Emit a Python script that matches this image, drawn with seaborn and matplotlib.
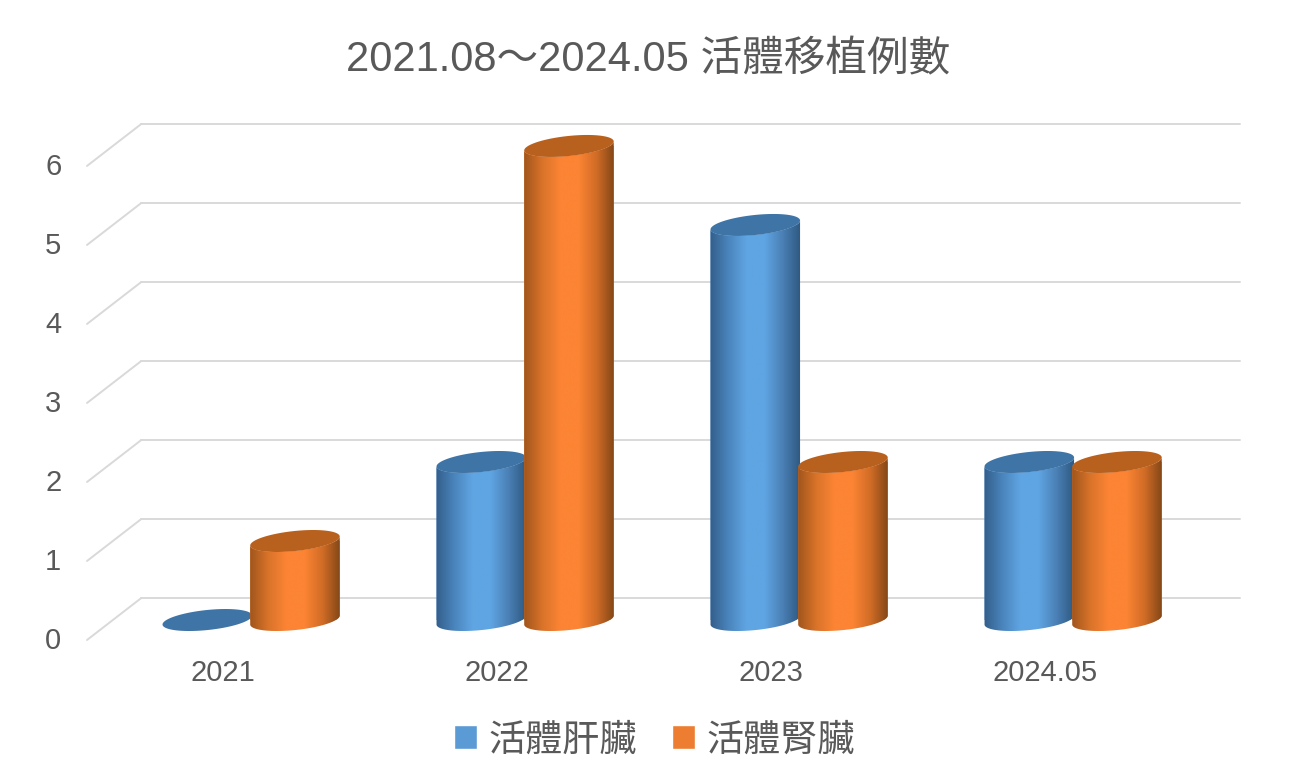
import numpy as np
import pandas as pd
import matplotlib
matplotlib.use("Agg")
import matplotlib.pyplot as plt
from matplotlib.colors import LinearSegmentedColormap
from matplotlib.patches import PathPatch
from matplotlib.path import Path
from matplotlib.transforms import IdentityTransform
import seaborn as sns

title = "2021.08～2024.05 活體移植例數"
years = ["2021", "2022", "2023", "2024.05"]
liver = [0, 2, 5, 2]
kidney = [1, 6, 2, 2]
series_names = ["活體肝臟", "活體腎臟"]
y_labels = ["0", "1", "2", "3", "4", "5", "6"]

sns.set_theme(style="white")
plt.rcParams["font.family"] = ["Liberation Sans", "Noto Sans CJK TC", "DejaVu Sans"]

W, H = 1296, 782
TXT = "#595959"
GRID = "#D9D9D9"
legend_cols = ["#5B9BD5", "#ED7D31"]
tops = ["#3F74A6", "#B8611F"]
ramps = [["#335E8A", "#4A84BC", "#5FA5E3", "#5FA5E3", "#4A80B5", "#2E5780"],
         ["#A0561C", "#D9732A", "#FC8434", "#FC8434", "#D06C26", "#7F4516"]]

df = pd.DataFrame({
    "year": years * 2,
    "series": [series_names[0]] * 4 + [series_names[1]] * 4,
    "value": liver + kidney,
})

fig = plt.figure(figsize=(W / 100, H / 100), dpi=100)
ax = fig.add_axes([87 / W, 1 - 640 / H, (1240 - 87) / W, (640 - 124) / H])
sns.barplot(data=df, x="year", y="value", hue="series", hue_order=series_names,
            palette=legend_cols, width=0.64, dodge=True, saturation=1,
            errorbar=None, ax=ax, legend=True)
handles, labels = ax.get_legend_handles_labels()
ax.get_legend().remove()

# layout: one value unit = 79 px, one category = 274 px
xlim = (-0.599, 3.609)
ylim = (-0.253, 6.278)
ax.set_xlim(*xlim)
ax.set_ylim(*ylim)
ax.set_xlabel("")
ax.set_ylabel("")
sns.despine(ax=ax, left=True, bottom=True)

# 3D-looking walls
depth_x = -0.401
for v in range(len(y_labels)):
    ax.plot([depth_x, xlim[1]], [v + 0.278, v + 0.278], color=GRID, lw=1.4, zorder=1, clip_on=False)
    ax.plot([xlim[0], depth_x], [v - 0.253, v + 0.278], color=GRID, lw=1.4, zorder=1, clip_on=False)

# ticks are shifted to the front of the floor
ax.set_yticks(np.arange(len(y_labels)) - 0.23, y_labels)
ax.set_xticks(np.arange(len(years)) - 0.102, years)
ax.tick_params(axis="y", length=0, pad=18.5, labelsize=21, labelcolor=TXT)
ax.tick_params(axis="x", length=0, pad=14, labelsize=21, labelcolor=TXT)

A, B = 45.0, 10.0
TH = np.radians(6)


def pts(c, t):
    return np.column_stack([c[0] + A * np.cos(t) * np.cos(TH) - B * np.sin(t) * np.sin(TH),
                            c[1] + A * np.cos(t) * np.sin(TH) + B * np.sin(t) * np.cos(TH)])


t0 = np.arctan2(-B * np.sin(TH), A * np.cos(TH))
lower = np.linspace(t0 + np.pi, t0 + 2 * np.pi, 80)
full = np.linspace(0, 2 * np.pi, 160)
grad = np.linspace(0, 1, 256).reshape(1, -1)

for s, container in enumerate(ax.containers):
    cmap = LinearSegmentedColormap.from_list("c", ramps[s])
    z = 3 + 3 * s
    for patch in container.patches:
        x0, w, h = patch.get_x(), patch.get_width(), patch.get_height()
        xc = x0 + w / 2
        bot = ax.transData.transform((xc, 0))
        top = ax.transData.transform((xc, h))
        xmin = xc - A / 274
        xmax = xc + A / 274
        patch.set_x(xmin)
        patch.set_width(xmax - xmin)
        patch.set_zorder(z)
        patch.set_edgecolor("none")
        if h > 0:
            body = np.vstack([pts(bot, lower), pts(top, lower[::-1])])
            body_path = Path(np.vstack([body, body[0]]), closed=True)
            patch.set_clip_path(body_path, IdentityTransform())
            im = ax.imshow(grad, cmap=cmap, extent=[xmin, xmax, -0.2, h + 0.2],
                           aspect="auto", zorder=z + 1, interpolation="bilinear")
            im.set_clip_path(body_path, IdentityTransform())
        cap = pts(top, full)
        ax.add_patch(PathPatch(Path(cap, closed=True), facecolor=tops[s], edgecolor="none",
                               transform=IdentityTransform(), zorder=z + 2))

ax.set_xlim(*xlim)
ax.set_ylim(*ylim)

fig.suptitle(title, x=648 / W, y=1 - 60 / H, ha="center", va="center", fontsize=30, color=TXT)

fig.legend(handles, labels, loc="center", bbox_to_anchor=(654.5 / W, 1 - 741 / H), ncol=2, frameon=False,
           fontsize=26.7, labelcolor=TXT, handlelength=0.62, handleheight=0.62,
           handletextpad=0.3, columnspacing=0.95)

fig.savefig("out.png", dpi=100, facecolor="white")
